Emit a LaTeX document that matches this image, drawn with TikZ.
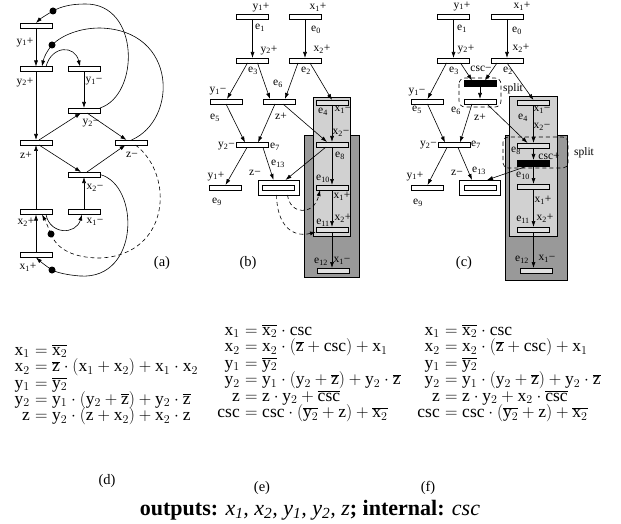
\documentclass[tikz,border=0pt]{standalone}
\usepackage{fontspec}
\setmainfont{Liberation Serif}
\usetikzlibrary{arrows.meta}
\definecolor{darkbg}{gray}{0.6}
\definecolor{lightbg}{gray}{0.82}
\definecolor{barbg}{gray}{0.88}
\newcommand\Vx{\mathrm{x}}
\newcommand\Vy{\mathrm{y}}
\newcommand\Vz{\mathrm{z}}
\newcommand\Vc{\mathrm{csc}}
\newcommand\olv[1]{\overline{#1}}
\newcommand\lfnt{\fontsize{11.5}{12}\selectfont}
\newcommand\efnt{\fontsize{17.5}{19}\selectfont}
\newcommand\sub[1]{\textsubscript{#1}}
\tikzset{
  bar/.style={draw, line width=0.7pt, fill=white, minimum width=32pt, minimum height=5pt, inner sep=0pt, outer sep=0pt},
  gbar/.style={bar, fill=barbg},
  bbar/.style={bar, fill=black, minimum height=6pt},
  zbox/.style={draw, line width=0.8pt, fill=white, minimum width=41pt, minimum height=15pt, inner sep=0pt, outer sep=0pt},
  arr/.style={-{Latex[length=6pt,width=4pt]}, line width=0.6pt},
  con/.style={line width=0.6pt},
  dsh/.style={dash pattern=on 4pt off 3pt},
  tok/.style={circle, fill=black, minimum size=7pt, inner sep=0pt},
  lab/.style={inner sep=0pt, font=\lfnt},
  plab/.style={inner sep=0pt, font=\fontsize{14.5}{16}\selectfont},
  eq/.style={inner sep=0pt, font=\efnt},
  splitbox/.style={dsh, line width=0.6pt},
}
\begin{document}
\begin{tikzpicture}[x=1pt,y=-1pt]
\useasboundingbox[fill=white] (0,0) rectangle (621,524);

% ================= panel (a) =================
\node[bar] (ay1p) at (36,25.5) {};
\node[bar] (ay2p) at (36,69) {};
\node[bar] (ay1m) at (84,69) {};
\node[bar] (ay2m) at (84,110.5) {};
\node[bar] (azp) at (36,142.5) {};
\node[bar] (azm) at (131.5,142.5) {};
\node[bar] (ax2m) at (84,174.5) {};
\node[bar] (ax2p) at (36,212) {};
\node[bar] (ax1m) at (84,212) {};
\node[bar] (ax1p) at (36,255) {};

\node[tok] (at1) at (53,11) {};
\node[tok] (at2) at (52,45) {};
\node[tok] (at3) at (51,234) {};
\node[tok] (at4) at (52,270) {};

\draw[arr] (ay1p) -- (ay2p);
\draw[arr] (ay2p) -- (azp);
\draw[arr] (ay1m) -- (ay2m);
\draw[arr] (ax1p) -- (ax2p);
\draw[arr] (ax2p) -- (azp);
\draw[arr] (ax1m) -- (ax2m);
\draw[arr] ([xshift=3]azp.north) -- ([xshift=-3]ay2m.south);
\draw[arr] ([xshift=3]ay2m.south) -- ([xshift=-5]azm.north);
\draw[arr] ([xshift=3]azp.south) -- ([xshift=-3]ax2m.north);
\draw[arr] ([xshift=3]ax2m.north) -- ([xshift=-6]azm.south);

\draw[con] (ay2m.north east) .. controls (140,95) and (140,3) .. (85,4) .. controls (70,4) and (60,7) .. (at1.center);
\draw[arr] (at1.center) .. controls (46,15) and (40,19) .. (ay1p.north);
\draw[con] (azm.north) .. controls (178,120) and (178,30) .. (100,28) .. controls (80,28) and (62,35) .. (at2.center);
\draw[arr] (at2.center) .. controls (47,51) and (44,57) .. ([xshift=6]ay2p.north);
\draw[arr] ([xshift=10]ay2p.north) .. controls (52,45) and (75,45) .. ([xshift=-4]ay1m.north);
\draw[con,dsh] ([xshift=4]azm.south) .. controls (175,175) and (170,255) .. (100,258) .. controls (75,258) and (57,250) .. (at3.center);
\draw[arr,dsh] (at3.center) .. controls (48,227) and (46,222) .. ([xshift=6]ax2p.south);
\draw[con] (ax2m.east) .. controls (140,185) and (140,280) .. (80,276) .. controls (68,275) and (58,273) .. (at4.center);
\draw[arr] (at4.center) .. controls (46,266) and (41,262) .. (ax1p.south);
\draw[arr] ([xshift=10]ax2p.south) .. controls (50,235) and (76,235) .. ([xshift=-2]ax1m.south);

\node[lab] (la1) at (25,42) {y\sub{1}+};
\node[lab] (la2) at (25,82) {y\sub{2}+};
\node[lab] (la3) at (94,81) {y\sub{1}−};
\node[lab] (la4) at (91,123) {y\sub{2}−};
\node[lab] (la5) at (26,155) {z+};
\node[lab] (la6) at (132,155) {z−};
\node[lab] (la7) at (95,188) {x\sub{2}−};
\node[lab] (la8) at (26,222) {x\sub{2}+};
\node[lab] (la9) at (95,222) {x\sub{1}−};
\node[lab] (la10) at (28,267) {x\sub{1}+};
\node[plab] (pa) at (162,263) {(a)};

% ================= panel (b) =================
\fill[darkbg, draw=black, line width=0.6pt] (304,135) rectangle (359,277);
\fill[lightbg, draw=black, line width=0.6pt] (313,97) rectangle (350,236);

\node[bar] (by1p) at (252.5,16.5) {};
\node[bar] (bx1p) at (305,16.5) {};
\node[bar] (by2p) at (252.5,60.5) {};
\node[bar] (bx2p) at (305,60.5) {};
\node[bar] (by1m) at (226,101.5) {};
\node[bar] (bzp) at (279,101.5) {};
\node[gbar] (bx1m) at (332,102.5) {};
\node[bar] (by2m) at (252,145) {};
\node[gbar] (bx2m) at (332,144.5) {};
\node[bar] (by1q) at (225.5,187.5) {};
\node[zbox] (bzm) at (278.5,187.5) {};
\node[bar] (bzmi) at (bzm) {};
\node[gbar] (be10) at (332,187.5) {};
\node[gbar] (be11) at (332,229.5) {};
\node[gbar] (be12) at (333.5,270.5) {};

\draw[arr] (by1p) -- (by2p);
\draw[arr] (bx1p) -- (bx2p);
\draw[arr] ([xshift=-5]by2p.south) -- ([xshift=1]by1m.north);
\draw[arr] ([xshift=5]by2p.south) -- ([xshift=-9]bzp.north);
\draw[arr] ([xshift=-7]bx2p.south) -- ([xshift=6]bzp.north);
\draw[arr] ([xshift=5]bx2p.south) -- (bx1m.north);
\draw[arr] (by1m.south) -- ([xshift=-7]by2m.north);
\draw[arr] ([xshift=-4]bzp.south) -- ([xshift=6]by2m.north);
\draw[arr] ([xshift=4]bzp.south) -- ([xshift=-5]bx2m.north);
\draw[arr] (bx1m) -- (bx2m);
\draw[arr] ([xshift=-5]by2m.south) -- (by1q.north);
\draw[arr] ([xshift=11]by2m.south) -- ([xshift=-5]bzm.north);
\draw[arr] ([xshift=-6]bx2m.south) -- ([xshift=7]bzm.north);
\draw[arr] (bx2m) -- (be10);
\draw[arr] (be10) -- (be11);
\draw[arr] (be11.south) -- ([xshift=-1.5]be12.north);
\draw[arr,dsh] ([xshift=9]bzm.south) .. controls (290,215) and (314,216) .. ([xshift=-12]be10.south);
\draw[arr,dsh] ([xshift=-2]bzm.south) .. controls (277,225) and (292,238) .. (be11.south west);

\node[lab] (lb1) at (261,7) {y\sub{1}+};
\node[lab] (lb2) at (318,7) {x\sub{1}+};
\node[lab] (lb3) at (260,28) {e\sub{1}};
\node[lab] (lb4) at (316,30) {e\sub{0}};
\node[lab] (lb5) at (269,50) {y\sub{2}+};
\node[lab] (lb6) at (322,49) {x\sub{2}+};
\node[lab] (lb7) at (253,71) {e\sub{3}};
\node[lab] (lb8) at (306,71) {e\sub{2}};
\node[lab] (lb9) at (218,91) {y\sub{1}−};
\node[lab] (lb10) at (278,84) {e\sub{6}};
\node[lab] (lb11) at (215,118) {e\sub{5}};
\node[lab] (lb12) at (281,116) {z+};
\node[lab] (lb13) at (323,112) {e\sub{4}};
\node[lab] (lb14) at (343,110) {x\sub{1}−};
\node[lab] (lb15) at (341,133) {x\sub{2}−};
\node[lab] (lb16) at (340,156) {e\sub{8}};
\node[lab,anchor=east] (lb17) at (235,146) {y\sub{2}−};
\node[lab,anchor=west] (lb18) at (270,147) {e\sub{7}};
\node[lab] (lb19) at (216,176) {y\sub{1}+};
\node[lab] (lb20) at (217,202) {e\sub{9}};
\node[lab] (lb21) at (255,173) {z−};
\node[lab] (lb22) at (278,164) {e\sub{13}};
\node[lab] (lb23) at (323,179) {e\sub{10}};
\node[lab] (lb24) at (342,196) {x\sub{1}+};
\node[lab] (lb25) at (323,223) {e\sub{11}};
\node[lab] (lb26) at (343,218) {x\sub{2}+};
\node[lab] (lb27) at (321,262) {e\sub{12}};
\node[lab] (lb28) at (342,261) {x\sub{1}−};
\node[plab] (pb) at (248,263) {(b)};

% ================= panel (c) =================
\fill[darkbg, draw=black, line width=0.6pt] (505,135) rectangle (567,280);
\fill[lightbg, draw=black, line width=0.6pt] (509,96) rectangle (557,236);

\node[bar] (cy1p) at (453.5,16.5) {};
\node[bar] (cx1p) at (507,16.5) {};
\node[bar] (cy2p) at (453.5,60.5) {};
\node[bar] (cx2p) at (507,60.5) {};
\node[bbar] (ccm) at (480,83.5) {};
\node[bar] (cy1m) at (427.5,101.5) {};
\node[bar] (czp) at (480,101.5) {};
\node[gbar] (cx1m) at (533.5,102.5) {};
\node[bar] (cy2m) at (454,145) {};
\node[gbar] (cx2m) at (533.5,145.5) {};
\node[bbar] (ccp) at (533.5,163) {};
\node[bar] (cy1q) at (427.5,187.5) {};
\node[zbox] (czm) at (480,187.5) {};
\node[bar] (czmi) at (czm) {};
\node[gbar] (ce10) at (533.5,186.5) {};
\node[gbar] (ce11) at (533.5,229.5) {};
\node[gbar] (ce12) at (536,270.5) {};

\draw[splitbox, rounded corners=6pt] (459,78) rectangle (501,107);
\draw[splitbox, rounded corners=5pt] (503,137) rectangle (568,168);

\draw[arr] (cy1p) -- (cy2p);
\draw[arr] (cx1p) -- (cx2p);
\draw[arr] ([xshift=-7]cy2p.south) -- (cy1m.north);
\draw[arr] ([xshift=7]cy2p.south) -- ([xshift=-8]ccm.north);
\draw[arr] ([xshift=-10]cx2p.south) -- ([xshift=5]ccm.north);
\draw[arr] (cx2p.south) -- (cx1m.north);
\draw[arr] (ccm) -- (czp);
\draw[arr] (cy1m.south) -- ([xshift=-9]cy2m.north);
\draw[arr] ([xshift=-8]czp.south) -- ([xshift=6]cy2m.north);
\draw[arr] ([xshift=7]czp.south) -- ([xshift=-6]cx2m.north);
\draw[arr] (cx1m) -- (cx2m);
\draw[arr] (cx2m) -- (ccp);
\draw[arr] ([xshift=-6]ccp.south) -- ([xshift=7]czm.north);
\draw[arr] ([xshift=-7]cy2m.south) -- (cy1q.north);
\draw[arr] ([xshift=4]cy2m.south) -- ([xshift=-8]czm.north);
\draw[arr] (ccp) -- (ce10);
\draw[arr] (ce10) -- (ce11);
\draw[arr] (ce11.south) -- ([xshift=-2.5]ce12.north);

\node[lab] (lc1) at (462,6) {y\sub{1}+};
\node[lab] (lc2) at (522,6) {x\sub{1}+};
\node[lab] (lc3) at (462,29) {e\sub{1}};
\node[lab] (lc4) at (517,31) {e\sub{0}};
\node[lab] (lc5) at (466,49) {y\sub{2}+};
\node[lab] (lc6) at (521,48) {x\sub{2}+};
\node[lab] (lc7) at (454,71) {e\sub{3}};
\node[lab] (lc8) at (481,69) {csc−};
\node[lab] (lc9) at (508,71) {e\sub{2}};
\node[lab] (lc10) at (513,89) {split};
\node[lab] (lc11) at (417,92) {y\sub{1}−};
\node[lab] (lc12) at (417,110) {e\sub{5}};
\node[lab] (lc13) at (456,111) {e\sub{6}};
\node[lab] (lc14) at (480,117) {z+};
\node[lab] (lc15) at (523,118) {e\sub{4}};
\node[lab] (lc16) at (542,110) {x\sub{1}−};
\node[lab] (lc17) at (542,127) {x\sub{2}−};
\node[lab] (lc18) at (516,151) {e\sub{8}};
\node[lab] (lc19) at (549,156) {csc+};
\node[lab] (lc20) at (584,153) {split};
\node[lab,anchor=east] (lc21) at (437,145) {y\sub{2}−};
\node[lab,anchor=west] (lc22) at (471,145) {e\sub{7}};
\node[lab] (lc23) at (415,176) {y\sub{1}+};
\node[lab] (lc24) at (418,203) {e\sub{9}};
\node[lab] (lc25) at (457,173) {z−};
\node[lab] (lc26) at (479,171) {e\sub{13}};
\node[lab] (lc27) at (523,176) {e\sub{10}};
\node[lab] (lc28) at (543,200) {x\sub{1}+};
\node[lab] (lc29) at (523,220) {e\sub{11}};
\node[lab] (lc30) at (545,218) {x\sub{2}+};
\node[lab] (lc31) at (522,260) {e\sub{12}};
\node[lab] (lc32) at (547,259) {x\sub{1}−};
\node[plab] (pc) at (464,263) {(c)};

% ================= equations (d) =================
\node[eq,anchor=base east] (d1l) at (30,355) {$\Vx_1$};
\node[eq,anchor=base west] (d1r) at (30,355) {${}=\olv{\Vx_2}$};
\node[eq,anchor=base east] (d2l) at (30,371.5) {$\Vx_2$};
\node[eq,anchor=base west] (d2r) at (30,371.5) {${}=\olv{\Vz}\cdot(\Vx_1+\Vx_2)+\Vx_1\cdot\Vx_2$};
\node[eq,anchor=base east] (d3l) at (30,388) {$\Vy_1$};
\node[eq,anchor=base west] (d3r) at (30,388) {${}=\olv{\Vy_2}$};
\node[eq,anchor=base east] (d4l) at (30,404) {$\Vy_2$};
\node[eq,anchor=base west] (d4r) at (30,404) {${}=\Vy_1\cdot(\Vy_2+\olv{\Vz})+\Vy_2\cdot\olv{\Vz}$};
\node[eq,anchor=base east] (d5l) at (30,420.5) {$\Vz$};
\node[eq,anchor=base west] (d5r) at (30,420.5) {${}=\Vy_2\cdot(\Vz+\Vx_2)+\Vx_2\cdot\Vz$};

% ================= equations (e) =================
\node[eq,anchor=base east] (e1l) at (240,335) {$\Vx_1$};
\node[eq,anchor=base west] (e1r) at (240,335) {${}=\olv{\Vx_2}\cdot\Vc$};
\node[eq,anchor=base east] (e2l) at (240,351.5) {$\Vx_2$};
\node[eq,anchor=base west] (e2r) at (240,351.5) {${}=\Vx_2\cdot(\olv{\Vz}+\Vc)+\Vx_1$};
\node[eq,anchor=base east] (e3l) at (240,368) {$\Vy_1$};
\node[eq,anchor=base west] (e3r) at (240,368) {${}=\olv{\Vy_2}$};
\node[eq,anchor=base east] (e4l) at (240,384.5) {$\Vy_2$};
\node[eq,anchor=base west] (e4r) at (240,384.5) {${}=\Vy_1\cdot(\Vy_2+\olv{\Vz})+\Vy_2\cdot\olv{\Vz}$};
\node[eq,anchor=base east] (e5l) at (240,401) {$\Vz$};
\node[eq,anchor=base west] (e5r) at (240,401) {${}=\Vz\cdot\Vy_2+\olv{\Vc}$};
\node[eq,anchor=base east] (e6l) at (240,417.5) {$\Vc$};
\node[eq,anchor=base west] (e6r) at (240,417.5) {${}=\Vc\cdot(\olv{\Vy_2}+\Vz)+\olv{\Vx_2}$};

% ================= equations (f) =================
\node[eq,anchor=base east] (f1l) at (440,335) {$\Vx_1$};
\node[eq,anchor=base west] (f1r) at (440,335) {${}=\olv{\Vx_2}\cdot\Vc$};
\node[eq,anchor=base east] (f2l) at (440,351.5) {$\Vx_2$};
\node[eq,anchor=base west] (f2r) at (440,351.5) {${}=\Vx_2\cdot(\olv{\Vz}+\Vc)+\Vx_1$};
\node[eq,anchor=base east] (f3l) at (440,368) {$\Vy_1$};
\node[eq,anchor=base west] (f3r) at (440,368) {${}=\olv{\Vy_2}$};
\node[eq,anchor=base east] (f4l) at (440,384.5) {$\Vy_2$};
\node[eq,anchor=base west] (f4r) at (440,384.5) {${}=\Vy_1\cdot(\Vy_2+\olv{\Vz})+\Vy_2\cdot\olv{\Vz}$};
\node[eq,anchor=base east] (f5l) at (440,401) {$\Vz$};
\node[eq,anchor=base west] (f5r) at (440,401) {${}=\Vz\cdot\Vy_2+\Vx_2\cdot\olv{\Vc}$};
\node[eq,anchor=base east] (f6l) at (440,417.5) {$\Vc$};
\node[eq,anchor=base west] (f6r) at (440,417.5) {${}=\Vc\cdot(\olv{\Vy_2}+\Vz)+\olv{\Vx_2}$};

\node[plab] (pd) at (107,481) {(d)};
\node[plab] (pe) at (262,488) {(e)};
\node[plab] (pf) at (428,488) {(f)};
\node[inner sep=0pt, font=\fontsize{22}{24}\selectfont] (title) at (310,510)
  {\textbf{outputs:} \textit{x\sub{1}, x\sub{2}, y\sub{1}, y\sub{2}, z}\textbf{;} \textbf{internal:} \textit{csc}};
\end{tikzpicture}
\end{document}
